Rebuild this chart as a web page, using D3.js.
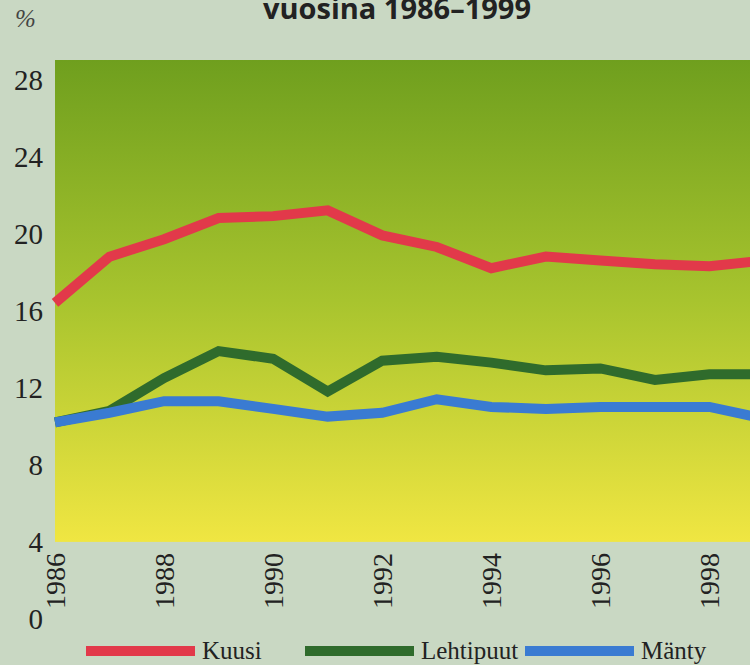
<!DOCTYPE html>
<html>
<head>
<meta charset="utf-8">
<script src="https://cdn.jsdelivr.net/npm/d3@7"></script>
<style>
  body { margin: 0; background: #c9d8c3; }
  svg { display: block; }
</style>
</head>
<body>
<svg id="chart" width="750" height="665"></svg>
<script>
const years = [1986, 1987, 1988, 1989, 1990, 1991, 1992, 1993, 1994, 1995, 1996, 1997, 1998, 1999];
const kuusi = [16.4, 18.8, 19.7, 20.8, 20.9, 21.2, 19.9, 19.3, 18.2, 18.8, 18.6, 18.4, 18.3, 18.6];
const lehtipuut = [10.2, 10.8, 12.5, 13.9, 13.5, 11.8, 13.4, 13.6, 13.3, 12.9, 13.0, 12.4, 12.7, 12.7];
const manty = [10.2, 10.7, 11.3, 11.3, 10.9, 10.5, 10.7, 11.4, 11.0, 10.9, 11.0, 11.0, 11.0, 10.4];
const yTicks = [0, 4, 8, 12, 16, 20, 24, 28];
const xTicks = [1986, 1988, 1990, 1992, 1994, 1996, 1998];

const series = [
  { name: "Kuusi", values: kuusi, color: "#e2394a" },
  { name: "Lehtipuut", values: lehtipuut, color: "#2f6b2c" },
  { name: "Mänty", values: manty, color: "#3a7bd2" }
];

const svg = d3.select("#chart");
const width = +svg.attr("width");
const height = +svg.attr("height");

const x = d3.scaleLinear().domain([1986, 1999]).range([55, 764]);
const y = d3.scaleLinear().domain([0, 29]).range([619, 60]);

// gradient vihreästä keltaiseen
const defs = svg.append("defs");
const grad = defs.append("linearGradient")
  .attr("id", "bg").attr("x1", 0).attr("y1", 0).attr("x2", 0).attr("y2", 1);
grad.append("stop").attr("offset", "0%").attr("stop-color", "#6f9f1e");
grad.append("stop").attr("offset", "50%").attr("stop-color", "#a8c42e");
grad.append("stop").attr("offset", "100%").attr("stop-color", "#f0e642");

svg.append("rect")
  .attr("x", x(1986))
  .attr("y", y(29))
  .attr("width", width - x(1986))
  .attr("height", y(4) - y(29))
  .attr("fill", "url(#bg)");

// otsikko (yläosa leikkautuu kuten alkuperäisessä)
svg.append("text")
  .attr("x", 397).attr("y", 19)
  .attr("text-anchor", "middle")
  .attr("font-family", "'Open Sans', 'DejaVu Sans', sans-serif")
  .attr("font-weight", "bold")
  .attr("font-size", 29)
  .attr("fill", "#222")
  .text("vuosina 1986–1999");

svg.append("text")
  .attr("x", 15).attr("y", 27)
  .attr("font-family", "'Liberation Serif', serif")
  .attr("font-style", "italic")
  .attr("font-size", 25)
  .attr("fill", "#444")
  .text("%");

// y akseli
const yAxis = svg.append("g")
  .attr("transform", `translate(${x(1986) - 12},0)`)
  .call(d3.axisLeft(y).tickValues(yTicks).tickSize(0).tickPadding(0));
yAxis.select(".domain").remove();
yAxis.selectAll("text")
  .attr("font-family", "'Liberation Serif', serif")
  .attr("font-size", 29)
  .attr("fill", "#222")
  .attr("dy", "0.34em");

// x akseli, pystyyn käännetyt vuosiluvut
const xAxis = svg.append("g")
  .attr("transform", `translate(0,${y(4) + 11})`)
  .call(d3.axisBottom(x).tickValues(xTicks).tickFormat(d3.format("d")).tickSize(0).tickPadding(0));
xAxis.select(".domain").remove();
xAxis.selectAll("text")
  .attr("font-family", "'Liberation Serif', serif")
  .attr("font-size", 28)
  .attr("fill", "#222")
  .attr("text-anchor", "end")
  .attr("transform", "rotate(-90)")
  .attr("x", 0)
  .attr("y", 0)
  .attr("dy", "0.34em");

// viivat
const line = d3.line()
  .x((d, i) => x(years[i]))
  .y(d => y(d));

svg.append("g")
  .selectAll("path")
  .data([series[0], series[1], series[2]])
  .enter()
  .append("path")
  .attr("d", d => line(d.values))
  .attr("fill", "none")
  .attr("stroke", d => d.color)
  .attr("stroke-width", 10)
  .attr("stroke-linejoin", "miter");

// selite
const legendX = [86, 305, 525];
const legend = svg.append("g")
  .selectAll("g")
  .data(series)
  .enter()
  .append("g")
  .attr("transform", (d, i) => `translate(${legendX[i]},651)`);

legend.append("rect")
  .attr("x", 0).attr("y", -5)
  .attr("width", 109).attr("height", 10)
  .attr("fill", d => d.color);

legend.append("text")
  .attr("x", 116).attr("y", 8)
  .attr("font-family", "'Liberation Serif', serif")
  .attr("font-size", 25)
  .attr("fill", "#222")
  .text(d => d.name);
</script>
</body>
</html>
